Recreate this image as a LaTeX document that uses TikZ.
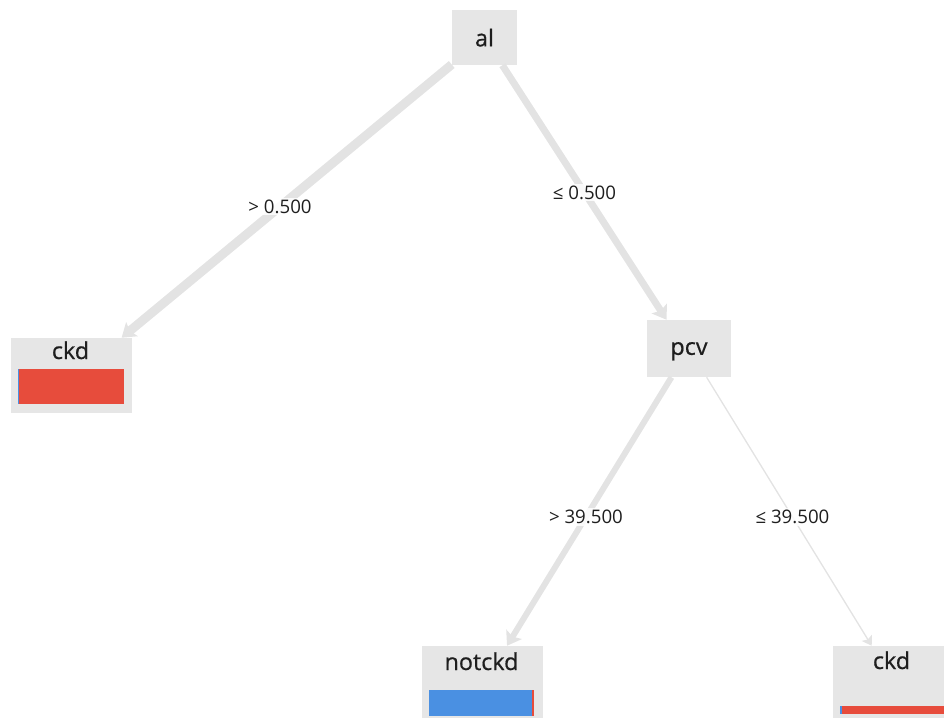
\documentclass[tikz,border=0pt]{standalone}
\usepackage{fontspec}
\setmainfont{Open Sans}
\newfontfamily\splitface{Open Sans}[FakeBold=0.6]
\usepackage{tikz}
\usetikzlibrary{arrows.meta}
\definecolor{boxgray}{HTML}{E6E6E6}
\definecolor{edgegray}{HTML}{E3E3E3}
\definecolor{ckdred}{HTML}{E74C3C}
\definecolor{notblue}{HTML}{4A90E2}
\definecolor{txtdark}{HTML}{1E1E1E}
\newcommand{\splitfont}{\splitface\fontsize{17.5}{20}\selectfont}
\newcommand{\edgefont}{\fontsize{14}{16}\selectfont}
\tikzstyle{splitbox}=[rectangle,fill=boxgray,inner sep=0pt,
  text depth=0pt,font=\splitfont,text=txtdark]
\tikzstyle{leafbox}=[rectangle,fill=boxgray,inner sep=0pt,
  minimum width=90.75pt,minimum height=56.25pt]
\tikzstyle{leaftxt}=[anchor=base,inner sep=0pt,font=\splitfont,text=txtdark]
\tikzstyle{bar}=[rectangle,inner sep=0pt,anchor=north west]
\tikzstyle{edge}=[-{Stealth[length=10pt,width=13.5pt,inset=2pt]},color=edgegray]
\tikzstyle{thinedge}=[-{Stealth[length=7pt,width=9pt,inset=1.5pt]},
  color=edgegray,line width=1pt]
\tikzstyle{elbl}=[fill=white,fill opacity=0.85,text opacity=1,
  inner sep=1.5pt,font=\edgefont,text=txtdark]

\begin{document}
\begin{tikzpicture}[x=0.75pt,y=-0.75pt]
  \clip (0,0) rectangle (944,717);
  % split nodes
  \node[splitbox,minimum width=48.75pt,minimum height=41.25pt] (al) at (484.5,37.5) {al};
  \node[splitbox,minimum width=63pt,minimum height=42.75pt] (pcv) at (689,348.5) {pcv};
  % leaves
  \node[leafbox] (ckdl) at (71.5,375.5) {};
  \node[leaftxt] (ckdlt) at (70.5,359) {ckd};
  \node[bar,fill=ckdred,minimum width=79.5pt,minimum height=26.25pt] (ckdlbar) at (18,369) {};
  \node[bar,fill=notblue,minimum width=0.75pt,minimum height=26.25pt] (ckdlsl) at (18,369) {};
  \node[leafbox] (notckd) at (482.5,683.5) {};
  \node[leaftxt] (notckdt) at (481.5,670) {notckd};
  \node[bar,fill=notblue,minimum width=78.75pt,minimum height=19.5pt] (notckdbar) at (429,690) {};
  \node[bar,fill=ckdred,minimum width=1.5pt,minimum height=19.5pt] (notckdsl) at (532,690) {};
  \node[leafbox] (ckdr) at (893.5,683.5) {};
  \node[leaftxt] (ckdrt) at (891.5,669) {ckd};
  \node[bar,fill=ckdred,minimum width=90pt,minimum height=6pt] (ckdrbar) at (840,706) {};
  \node[bar,fill=notblue,minimum width=1.5pt,minimum height=6pt] (ckdrsl) at (840,706) {};
  % edges
  \draw[edge,line width=6.75pt] (al) -- node[elbl,pos=0.52] {> 0.500} (ckdl.37);
  \draw[edge,line width=5.25pt] (al) -- node[elbl,pos=0.5] {≤ 0.500} (pcv.128);
  \draw[edge,line width=4.5pt] (pcv) -- node[elbl,pos=0.52] {> 39.500} (notckd.57);
  \draw[thinedge] (pcv) -- node[elbl,pos=0.52] {≤ 39.500} (ckdr.120);
\end{tikzpicture}
\end{document}
